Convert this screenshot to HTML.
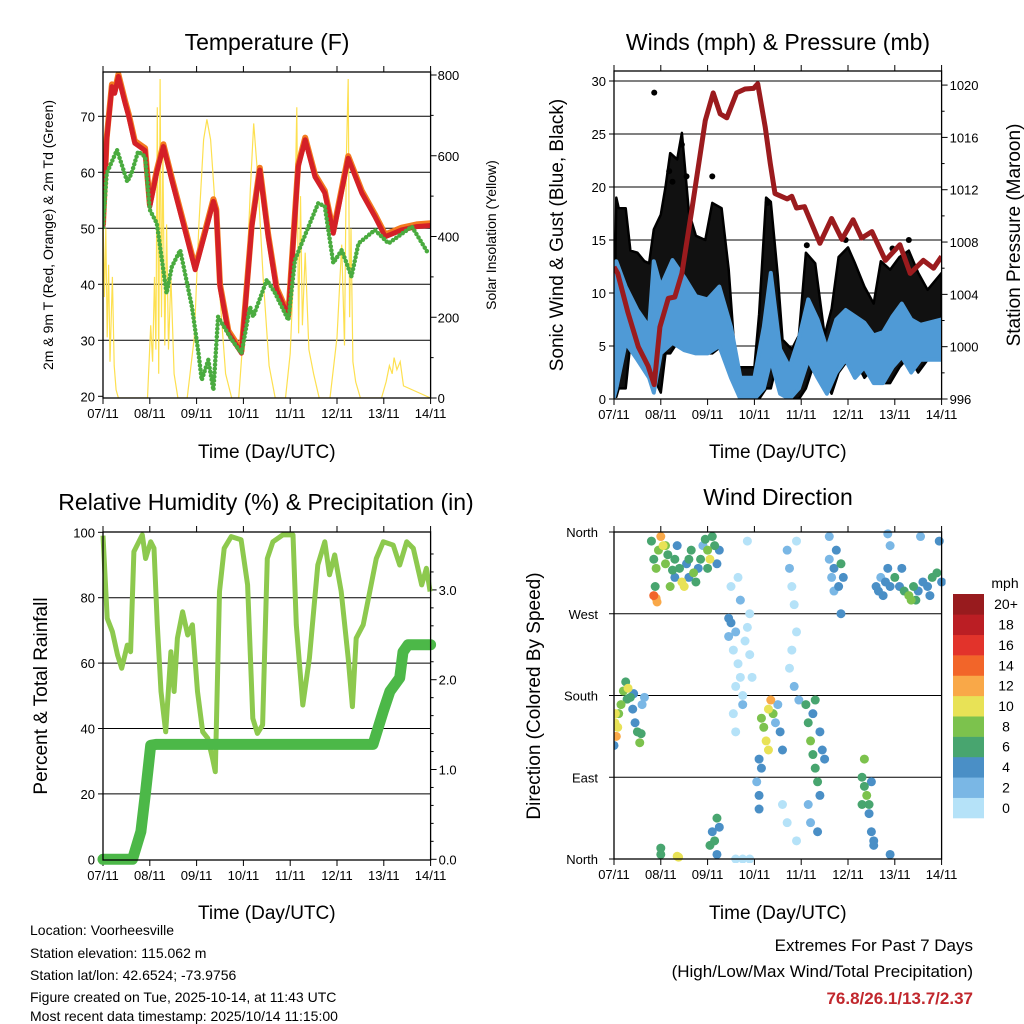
<!DOCTYPE html>
<html><head><meta charset="utf-8"><style>
html,body{margin:0;padding:0;background:#fff}
svg{display:block;font-family:"Liberation Sans",sans-serif}
</style></head><body>
<svg id="c" width="1024" height="1024" viewBox="0 0 1024 1024" xmlns="http://www.w3.org/2000/svg">
<g font-size="14" fill="#000">
<text x="30" y="935">Location: Voorheesville</text>
<text x="30" y="958">Station elevation: 115.062 m</text>
<text x="30" y="980">Station lat/lon: 42.6524; -73.9756</text>
<text x="30" y="1002">Figure created on Tue, 2025-10-14, at 11:43 UTC</text>
<text x="30" y="1024" dy="-3">Most recent data timestamp: 2025/10/14 11:15:00</text>
<text x="973" y="951" text-anchor="end" font-size="17">Extremes For Past 7 Days</text>
<text x="973" y="977" text-anchor="end" font-size="17">(High/Low/Max Wind/Total Precipitation)</text>
<text x="973" y="1004" text-anchor="end" font-size="17" font-weight="bold" fill="#c1272d">76.8/26.1/13.7/2.37</text>
</g>
</svg>
<script>
// ---------- data ----------
const dayLabels = ["07/11","08/11","09/11","10/11","11/11","12/11","13/11","14/11"];
// Temperature (F)
const tempT = [0,0.08,0.19,0.25,0.33,0.47,0.55,0.68,0.9,1.0,1.15,1.29,1.47,1.75,1.97,2.18,2.36,2.42,2.5,2.68,2.96,3.18,3.35,3.53,3.71,3.96,4.17,4.32,4.53,4.74,4.92,5.24,5.53,5.81,6.03,6.38,6.7,7.0];
const tempV = [50.2,65.8,75.3,74.1,77.1,72.4,70,65.2,63.9,53.9,60,64.6,58.6,49.7,42.6,49.1,54.8,53,39.6,31.3,27.7,50.3,60.4,48.5,39,34.2,61,65.8,59.2,56.3,49.1,62.5,56.3,52.1,48.5,49.7,50.3,50.5];
const dewT = [0,0.08,0.3,0.52,0.61,0.75,0.9,1.0,1.15,1.36,1.47,1.65,1.9,2.04,2.11,2.25,2.36,2.46,2.75,2.96,3.14,3.21,3.5,3.68,3.96,4.1,4.39,4.6,4.74,4.92,5.1,5.31,5.46,5.81,6.1,6.6,6.95];
const dewV = [50.2,59.8,64,58.3,59.8,63.7,62.8,53.3,50.9,38.4,43.1,46.1,36,27.7,22.9,26.5,21.1,34.2,30.1,27.7,36,34.2,40.8,38.4,33.6,44.3,50.3,54.5,53.9,43.8,46.1,41.4,47.3,49.7,47.3,50.3,45.5];
// Solar insolation
const solarT = [0,0.03,0.06,0.09,0.12,0.15,0.2,0.24,0.28,0.33,0.95,1.02,1.06,1.1,1.13,1.16,1.19,1.22,1.25,1.28,1.32,1.36,1.4,1.45,1.52,1.6,1.8,1.95,2.05,2.15,2.22,2.3,2.4,2.5,2.62,2.75,2.9,3.05,3.15,3.22,3.3,3.42,3.55,3.68,3.9,4.0,4.08,4.14,4.18,4.22,4.26,4.32,4.4,4.5,4.62,4.85,5.0,5.1,5.16,5.2,5.24,5.27,5.3,5.34,5.4,5.5,5.95,6.05,6.12,6.18,6.22,6.28,6.35,6.42,7.0];
const solarV = [460,250,420,150,330,90,300,80,20,0,0,180,90,300,120,720,60,790,200,610,130,430,120,300,60,0,0,150,430,640,690,640,470,250,60,0,0,240,520,680,560,300,80,0,0,110,330,720,160,500,180,360,120,60,0,0,150,380,130,600,790,200,420,90,40,0,0,40,80,60,100,70,90,30,0];
// Winds (mph) & pressure (mb)
const windT = [0,0.05,0.25,0.5,0.75,0.85,1.0,1.25,1.5,1.75,2.0,2.25,2.5,2.7,3.0,3.2,3.35,3.55,3.75,3.95,4.15,4.35,4.55,4.75,4.95,5.15,5.35,5.55,5.75,5.95,6.15,6.35,6.55,7.0];
const windLo = [0.2,1,5.3,3.7,2,0.6,4.3,5.3,4.6,4.3,4.3,5,2,0,0,1,3.7,0.5,0,1,3.7,2,0.5,2.5,3.7,2,3,1.5,1.5,3,4,2.5,3.7,3.7];
const windHi = [3,13,10.6,8.4,6.8,13,10.6,13.1,11.5,9.7,9.4,10.6,6.8,2,2,6.8,11.9,4.7,3,5.7,9.4,7.5,4.7,7.5,8.4,7.8,7.2,6,6.3,7.8,9,7.5,7,7.5];
const gustT = [0,0.05,0.1,0.25,0.35,0.5,0.65,0.75,0.85,1.0,1.1,1.2,1.35,1.45,1.6,1.75,1.95,2.1,2.3,2.45,2.6,3.0,3.1,3.25,3.35,3.5,3.6,3.8,3.95,4.1,4.3,4.5,4.65,4.8,5.0,5.15,5.35,5.55,5.7,5.9,6.1,6.3,6.5,6.7,7.0];
const gustHi = [4,19,18,18,14,13.8,13,12.8,16,17.4,20,23.2,22.6,25.1,17.6,15.4,15,18.5,18,12.2,3,3,8,19,18.6,11.6,5.6,4.7,6,13.8,12.8,6,8.5,13.4,14.3,12.8,10.6,9,13,12.2,13.4,14,11.9,10.3,11.9];
const gustOutT = [0.86,1.45,1.55,2.1,1.18,1.25,3.28,4.12,4.95,5.95,6.3];
const gustOutV = [28.9,24,21,21,21.5,20.5,18.5,14.5,15,14.2,15];
const presT = [0,0.08,0.3,0.52,0.73,0.86,0.98,1.16,1.3,1.45,1.66,1.95,2.12,2.27,2.41,2.62,2.8,2.98,3.07,3.23,3.34,3.44,3.7,3.8,3.9,4.07,4.4,4.65,4.87,5.11,5.29,5.51,5.8,6.11,6.33,6.61,6.83,7.0];
const presV = [1006.1,1005.6,1002.6,1000,998.5,997.1,1001.5,1003.7,1003.8,1005.6,1010.4,1017.3,1019.4,1017.8,1017.5,1019.4,1019.7,1019.75,1020.1,1016.8,1014,1011.7,1011.3,1011.5,1010.6,1010.7,1007.9,1009.8,1008.2,1009.7,1008.3,1008.8,1006.6,1007.8,1005.6,1006.6,1006,1006.9];
// RH (%) & precipitation (in)
const rhT = [0,0.09,0.2,0.31,0.4,0.52,0.59,0.66,0.84,0.91,1.02,1.09,1.16,1.24,1.34,1.45,1.52,1.59,1.7,1.81,1.91,2.02,2.13,2.24,2.34,2.4,2.49,2.59,2.74,2.95,3.09,3.2,3.3,3.41,3.51,3.63,3.84,4.06,4.13,4.27,4.41,4.59,4.74,4.84,4.95,5.09,5.24,5.33,5.41,5.56,5.7,5.84,5.99,6.2,6.34,6.49,6.63,6.81,6.91,6.99];
const rhV = [99,73.7,69.6,62.5,58.4,65.5,63.5,94.1,99.2,92,97.1,95.1,71.7,51.3,39,63.5,51.3,67.6,75.7,68.6,71.7,51.3,39,37,30.9,26.8,81.9,95.1,98.7,97.7,83.9,43.1,38.5,41.1,92,97.1,99.2,99.2,71.7,47.2,61.5,90,97.1,87,93.1,81.9,61.5,46.7,67.6,71.7,81.9,92,97.1,96.1,90,97.1,95.1,83.9,89,81.9];
const rainT = [0,0.63,0.81,0.91,1.02,1.13,5.77,5.99,6.13,6.34,6.41,6.52,7.0];
const rainV = [0,0,0.31,0.75,1.27,1.28,1.28,1.65,1.87,2.02,2.31,2.39,2.39];
// Wind direction: day, degrees, speed
const dirDay = [0.02,0.05,0.08,0.1,0.15,0.2,0.25,0.3,0.35,0.4,0.45,0.5,0.55,0.6,0.65,0.0,0.03,0.28,0.42,0.58,
0.8,0.85,0.9,0.95,1.0,1.05,1.1,1.15,0.85,0.9,0.92,0.88,1.2,1.25,1.3,1.35,1.4,1.45,1.5,1.55,1.6,1.65,1.7,1.75,1.8,1.85,1.9,1.95,2.0,2.05,2.1,2.15,2.2,2.25,1.3,1.6,2.0,1.1,
2.45,2.5,2.45,2.55,2.6,2.65,2.7,2.6,2.75,2.8,2.85,2.9,2.95,2.7,2.5,2.65,2.85,2.9,2.55,2.6,2.75,
3.15,3.2,3.25,3.3,3.35,3.4,3.3,3.45,3.5,3.55,3.6,3.1,3.15,3.05,3.1,3.1,
3.7,3.75,3.8,3.85,3.9,3.8,3.75,3.85,3.9,3.95,3.6,3.7,3.9,
4.1,4.15,4.2,4.25,4.3,4.35,4.4,4.25,4.3,4.4,4.45,4.15,4.2,4.35,4.5,
4.6,4.65,4.7,4.75,4.8,4.85,4.7,4.9,4.6,4.85,
5.3,5.35,5.4,5.45,5.5,5.35,5.45,5.5,5.55,5.3,
5.6,5.65,5.7,5.75,5.8,5.85,5.9,5.9,5.85,5.9,5.55,
6.0,6.1,6.2,6.3,6.35,6.4,6.5,6.6,6.7,6.8,6.9,7.0,6.15,6.45,6.75,6.95,6.55,
2.05,2.1,2.15,2.2,2.2,2.25,1.0,1.0,1.35,1.38,2.6,2.75,2.9];
const dirDeg = [150,135,145,160,170,185,195,188,178,165,150,140,128,170,178,125,160,176,182,138,
350,330,320,340,355,345,325,335,290,287,283,300,300,318,330,345,320,305,300,325,330,340,315,305,320,330,345,352,340,330,355,345,325,340,310,310,320,345,
265,260,245,230,250,215,200,190,180,240,255,225,200,285,300,310,350,270,160,140,170,
155,145,130,165,175,160,120,150,170,140,120,110,100,85,70,55,
340,320,300,280,250,230,210,190,350,175,60,40,20,
170,150,130,115,100,85,70,160,175,140,120,60,40,30,110,
330,310,320,340,300,325,295,310,355,270,
90,80,70,60,85,110,50,30,20,60,
300,295,310,290,305,320,345,300,358,5,15,
310,300,295,290,285,300,295,305,300,310,315,305,320,285,290,350,355,
15,30,20,45,5,35,5,12,3,2,0,0,0];
const dirSpd = [10,12,11,9,8,9,7,10,6,5,5,7,8,3,2,4,11,7,4,6,
6,7,8,9,12,10,8,7,15,12,13,6,8,6,7,5,6,11,10,4,7,6,8,7,4,6,3,7,8,10,7,6,5,4,4,5,7,9,
4,4,3,1,2,1,0,1,0,0,1,0,1,2,1,1,0,1,1,1,2,
8,9,10,10,12,9,10,3,2,4,4,5,4,3,4,4,
2,2,1,1,1,1,1,2,0,3,1,1,1,
6,6,8,7,6,7,5,5,6,4,4,3,2,4,4,
2,3,4,4,4,6,2,4,2,4,
7,6,8,6,5,8,5,4,4,6,
4,4,3,5,4,4,3,4,2,4,4,
6,5,7,8,8,6,5,4,5,6,6,5,4,7,4,4,2,
6,5,7,6,5,4,6,6,10,10,1,1,1];
const speedColors = ["#b5e2f8","#7ab7e5","#4a8fc6","#48a56f","#7cc24d","#e8e256","#f9a848","#f26529","#e2332b","#bb1e24","#981b1e"];
const speedLabels = ["0","2","4","6","8","10","12","14","16","18","20+"];

// ---------- helpers ----------
const svg = document.getElementById('c');
const NS = 'http://www.w3.org/2000/svg';
function mk(tag, attrs, parent){ const e=document.createElementNS(NS,tag); for(const k in attrs) e.setAttribute(k,attrs[k]); (parent||svg).appendChild(e); return e; }
function txt(x,y,s,size,anchor,parent,rot){ const t=mk('text',{x:x,y:y,'font-size':size,'text-anchor':anchor||'middle'},parent); if(rot) t.setAttribute('transform','rotate(-90 '+x+' '+y+')'); t.textContent=s; return t; }
function pathFrom(xs,ys,fx,fy){ return xs.map((v,i)=>(i?'L':'M')+fx(v).toFixed(1)+','+fy(ys[i]).toFixed(1)).join(''); }
function bandFrom(xs,lo,hi,fx,fy){ let d=xs.map((v,i)=>(i?'L':'M')+fx(v).toFixed(1)+','+fy(hi[i]).toFixed(1)).join(''); for(let i=xs.length-1;i>=0;i--) d+='L'+fx(xs[i]).toFixed(1)+','+fy(lo[i]).toFixed(1); return d+'Z'; }
function xAxis(g,x0,y0,y1,title,titleY){
  const fx=d=>x0+d*46.8;
  for(let i=0;i<dayLabels.length;i++){
    const x=fx(i);
    mk('line',{x1:x,x2:x,y1:y1,y2:y1+6,stroke:'#000','stroke-width':1},g);
    mk('line',{x1:x,x2:x,y1:y0,y2:y0-6,stroke:'#000','stroke-width':1},g);
    const t=txt(x,y1+20,dayLabels[i],13,'middle',g);
    
    
  }
  const tt=txt(x0+163.8,titleY,title,19,'middle',g);
  
  
  return fx;
}
function frame(g,x0,x1,y0,y1){ mk('rect',{x:x0,y:y0,width:x1-x0,height:y1-y0,fill:'none',stroke:'#000','stroke-width':1.3},g); }

// ---------- Panel 1: Temperature ----------
(function(){
  const g=mk('g',{});
  
  
  const x0=103,x1=430.6,y0=72,y1=398;
  const fy=v=>396.3-(v-20)*5.6, fr=v=>398-v*0.40375;
  const fx=xAxis(g,x0,y0,y1,'Time (Day/UTC)',458);
  [30,40,50,60,70].forEach(v=>mk('line',{x1:x0,x2:x1,y1:fy(v),y2:fy(v),stroke:'#000','stroke-width':1},g));
  [20,30,40,50,60,70].forEach(v=>{ mk('line',{x1:x0-5,x2:x0,y1:fy(v),y2:fy(v),stroke:'#000'},g); const t=txt(x0-8,fy(v)+5,String(v),13,'end',g);   });
  for(let v=0;v<=800;v+=100) mk('line',{x1:x1,x2:x1+(v%200?3:6),y1:fr(v),y2:fr(v),stroke:'#000'},g);
  [0,200,400,600,800].forEach(v=>{ const t=txt(x1+7,fr(v)+5,String(v),13,'start',g);   });
  const cp=mk('clipPath',{id:'cp1'},g); mk('rect',{x:x0,y:y0,width:x1-x0,height:y1-y0},cp);
  const pg=mk('g',{'clip-path':'url(#cp1)'},g);
  const sol=mk('path',{d:pathFrom(solarT,solarV,fx,fr),fill:'none',stroke:'#fde050','stroke-width':1.2},pg);
   
  const o=mk('path',{d:pathFrom(tempT,tempV.map(v=>v+0.4),fx,fy),fill:'none',stroke:'#f47b20','stroke-width':6,'stroke-linejoin':'round'},pg);
   
  const r=mk('path',{d:pathFrom(tempT,tempV,fx,fy),fill:'none',stroke:'#d42027','stroke-width':5,'stroke-linejoin':'round'},pg);
   
  const d=mk('path',{d:pathFrom(dewT,dewV,fx,fy),fill:'none',stroke:'#4aab3f','stroke-width':4.5,'stroke-linecap':'round','stroke-dasharray':'0,4'},pg);
   
  frame(g,x0,x1,y0,y1);
  const t1=txt(267,50,'Temperature (F)',23,'middle',g);  
  const t2=txt(53,235,'2m & 9m T (Red, Orange) & 2m Td (Green)',14,'middle',g,true);  
  const t3=txt(496,235,'Solar Insolation (Yellow)',14,'middle',g,true);  
})();

// ---------- Panel 2: Winds & Pressure ----------
(function(){
  const g=mk('g',{});
  
  
  const x0=614,x1=941.6,y0=71,y1=399;
  const fy=v=>399-v*10.6, fp=p=>399-(p-996)*13.08;
  const fx=xAxis(g,x0,y0,y1,'Time (Day/UTC)',458);
  [5,10,15,20,25,30].forEach(v=>mk('line',{x1:x0,x2:x1,y1:fy(v),y2:fy(v),stroke:'#000','stroke-width':1},g));
  [0,5,10,15,20,25,30].forEach(v=>{ mk('line',{x1:x0-5,x2:x0,y1:fy(v),y2:fy(v),stroke:'#000'},g); const t=txt(x0-8,fy(v)+5,String(v),13,'end',g);   });
  for(let p=996;p<=1020;p+=2) mk('line',{x1:x1,x2:x1+(p%4?3:6),y1:fp(p),y2:fp(p),stroke:'#000'},g);
  for(let p=996;p<=1020;p+=4){ const t=txt(x1+8,fp(p)+5,String(p),13,'start',g);   }
  const cp=mk('clipPath',{id:'cp2'},g); mk('rect',{x:x0,y:y0,width:x1-x0,height:y1-y0},cp);
  const pg=mk('g',{'clip-path':'url(#cp2)'},g);
  const gustLo=gustT.map(t=>{ let i=0; while(i<windT.length-1&&windT[i+1]<t) i++; return windLo[i]; });
  const gb=mk('path',{d:bandFrom(gustT,gustLo,gustHi,fx,fy),fill:'#111',stroke:'#000','stroke-width':2.5,'stroke-linejoin':'round'},pg);
   
  gustOutT.forEach((t,i)=>{ const c=mk('circle',{cx:fx(t),cy:fy(gustOutV[i]),r:3,fill:'#000'},pg);
      });
  const wb=mk('path',{d:bandFrom(windT,windLo,windHi,fx,fy),fill:'#4f9ad6',stroke:'#4f9ad6','stroke-width':4,'stroke-linejoin':'round'},pg);
   
  const pl=mk('path',{d:pathFrom(presT,presV,fx,fp),fill:'none',stroke:'#9b1b1e','stroke-width':5,'stroke-linejoin':'round'},pg);
   
  frame(g,x0,x1,y0,y1);
  const t1=txt(778,50,'Winds (mph) & Pressure (mb)',23,'middle',g);  
  const t2=txt(563,235,'Sonic Wind & Gust (Blue, Black)',19,'middle',g,true);  
  const t3=txt(1020,235,'Station Pressure (Maroon)',19,'middle',g,true);  
})();

// ---------- Panel 3: RH & Precip ----------
(function(){
  const g=mk('g',{});
  
  
  const x0=103,x1=430.6,y0=532,y1=860;
  const fy=v=>859.3-v*3.27, fr=v=>859.3-v*89.8;
  const fx=xAxis(g,x0,y0,y1,'Time (Day/UTC)',919);
  [20,40,60,80].forEach(v=>mk('line',{x1:x0,x2:x1,y1:fy(v),y2:fy(v),stroke:'#000','stroke-width':1},g));
  [0,20,40,60,80,100].forEach(v=>{ mk('line',{x1:x0-5,x2:x0,y1:fy(v),y2:fy(v),stroke:'#000'},g); const t=txt(x0-8,fy(v)+5,String(v),13,'end',g);   });
  for(let v=0;v<=3.6;v+=0.2) mk('line',{x1:x1,x2:x1+(Math.abs(v-Math.round(v))<0.01?6:3),y1:fr(v),y2:fr(v),stroke:'#000'},g);
  ['0.0','1.0','2.0','3.0'].forEach((s,i)=>{ const t=txt(x1+8,fr(i)+5,s,13,'start',g);   });
  const rh=mk('path',{d:pathFrom(rhT,rhV,fx,fy),fill:'none',stroke:'#8dc94e','stroke-width':5,'stroke-linejoin':'round'},g);
   
  const rn=mk('path',{d:pathFrom(rainT,rainV,fx,fr),fill:'none',stroke:'#4cb848','stroke-width':11,'stroke-linejoin':'round','stroke-linecap':'round'},g);
   
  frame(g,x0,x1,y0,y1);
  const t1=txt(266,510,'Relative Humidity (%) & Precipitation (in)',23,'middle',g);  
  const t2=txt(47,696,'Percent & Total Rainfall',19,'middle',g,true);  
})();

// ---------- Panel 4: Wind direction ----------
(function(){
  const g=mk('g',{});
  
  
  const x0=614,x1=941.6,y0=532,y1=859;
  const fy=d=>859-d*327/360;
  const fx=xAxis(g,x0,y0,y1,'Time (Day/UTC)',919);
  [90,180,270].forEach(v=>mk('line',{x1:x0,x2:x1,y1:fy(v),y2:fy(v),stroke:'#000','stroke-width':1},g));
  [[0,'North'],[90,'East'],[180,'South'],[270,'West'],[360,'North']].forEach(a=>{ mk('line',{x1:x0-5,x2:x0,y1:fy(a[0]),y2:fy(a[0]),stroke:'#000'},g); const t=txt(x0-16,fy(a[0])+5,a[1],13,'end',g);   });
  const cp=mk('clipPath',{id:'cp4'},g); mk('rect',{x:x0,y:y0-4,width:x1-x0+4,height:y1-y0+8},cp);
  const pg=mk('g',{'clip-path':'url(#cp4)'},g);
  const order=dirDay.map((d,i)=>i).sort((a,b)=>dirSpd[a]-dirSpd[b]);
  order.forEach(i=>{
    const c=mk('circle',{cx:fx(dirDay[i]),cy:fy(dirDeg[i]),r:4.5,fill:speedColors[Math.min(10,Math.floor(dirSpd[i]/2))]},pg);
    
    
  });
  frame(g,x0,x1,y0,y1);
  const t1=txt(778,505,'Wind Direction',23,'middle',g);  
  const t2=txt(540,696,'Direction (Colored By Speed)',19,'middle',g,true);  
  // colorbar
  const cb=mk('g',{},svg);
  
  
  const top=594,h=224/11;
  const lt=txt(1005,588,'mph',14,'middle',cb);  
  for(let i=0;i<11;i++){
    const yy=top+(10-i)*h;
    const r=mk('rect',{x:953,y:yy,width:31,height:h+0.3,fill:speedColors[i]},cb);
    
    
    const t=txt(1006,yy+h/2+5,speedLabels[i],14,'middle',cb);
    
    
  }
})();
</script>
</body></html>
